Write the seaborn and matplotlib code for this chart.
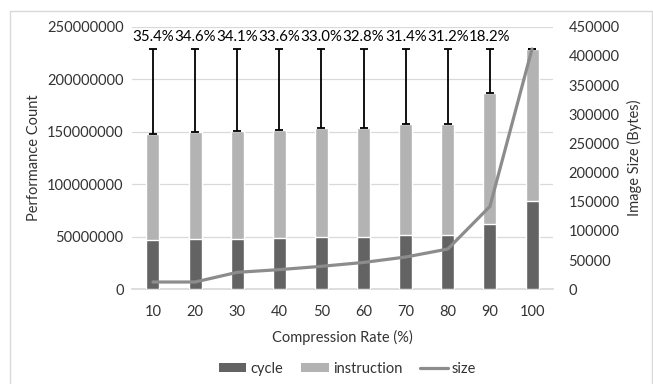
import numpy as np
import pandas as pd
import matplotlib
matplotlib.use("Agg")
import matplotlib.pyplot as plt
from matplotlib.lines import Line2D
from matplotlib.patches import Patch
import seaborn as sns

rates = ["10", "20", "30", "40", "50", "60", "70", "80", "90", "100"]
cycle = [46.6e6, 47.5e6, 48.2e6, 48.8e6, 49.4e6, 49.6e6, 51.3e6, 51.6e6, 62.5e6, 83.7e6]
instruction = [101.2e6, 102.1e6, 102.6e6, 103.1e6, 103.9e6, 104.2e6, 105.7e6, 105.8e6, 124.7e6, 145.1e6]
size = [12500, 12500, 29100, 33700, 39400, 46000, 55300, 69000, 142000, 411800]
pct_labels = ["35.4%", "34.6%", "34.1%", "33.6%", "33.0%", "32.8%", "31.4%", "31.2%", "18.2%", ""]
left_ticks = [0, 50000000, 100000000, 150000000, 200000000, 250000000]
right_ticks = [0, 50000, 100000, 150000, 200000, 250000, 300000, 350000, 400000, 450000]

sns.set_theme(style="white")
plt.rcParams["font.family"] = ["Lato", "DejaVu Sans"]

C_CYCLE = "#636363"
C_INSTR = "#b3b3b3"
C_SIZE = "#8c8c8c"
TXT = "#333333"

df = pd.DataFrame({"rate": rates, "cycle": cycle, "instruction": instruction, "size": size})
df["total"] = df["cycle"] + df["instruction"]

fig = plt.figure(figsize=(6.53, 3.84), dpi=100)
ax = fig.add_axes([0.202, 0.2466, 0.645, 0.684])

sns.barplot(data=df, x="rate", y="total", color=C_INSTR, width=0.31, ax=ax, saturation=1, zorder=2)
sns.barplot(data=df, x="rate", y="cycle", color=C_CYCLE, width=0.31, ax=ax, saturation=1, zorder=3)

top = df["total"].max()
xpos = np.arange(len(rates))
ax.errorbar(xpos, df["total"], yerr=[np.zeros(len(rates)), top - df["total"]],
            fmt="none", ecolor="black", elinewidth=1.3, capsize=3, capthick=1.3, zorder=4)
for i, lab in enumerate(pct_labels):
    if lab:
        ax.text(i, 233.5e6, lab, ha="center", va="bottom", fontsize=10.8, color="black")

ax.set_ylim(0, 250e6)
ax.set_xlim(-0.5, len(rates) - 0.5)
ax.set_yticks(left_ticks)
ax.set_yticklabels([str(t) for t in left_ticks])
ax.yaxis.grid(True, color="#d9d9d9", linewidth=0.9, zorder=0)
ax.set_axisbelow(True)
for s in ["top", "right", "left"]:
    ax.spines[s].set_visible(False)
ax.spines["bottom"].set_color("#d9d9d9")
ax.tick_params(axis="y", length=0, labelsize=10.5, colors=TXT, pad=6)
ax.tick_params(axis="x", length=0, labelsize=10.5, colors=TXT, pad=11)
ax.set_xlabel("Compression Rate (%)", fontsize=10.5, color=TXT, labelpad=8)
ax.set_ylabel("Performance Count", fontsize=10.5, color=TXT, labelpad=4)

ax2 = ax.twinx()
sns.lineplot(x=xpos, y=df["size"], color=C_SIZE, linewidth=2.3, ax=ax2, zorder=5)
ax2.set_ylim(0, 450000)
ax2.set_yticks(right_ticks)
ax2.set_yticklabels([str(t) for t in right_ticks])
for s in ["top", "right", "left", "bottom"]:
    ax2.spines[s].set_visible(False)
ax2.tick_params(axis="y", length=0, labelsize=10.5, colors=TXT, pad=11)
ax2.set_ylabel("Image Size (Bytes)", fontsize=10.5, color=TXT, labelpad=5)
ax2.grid(False)

handles = [Patch(facecolor=C_CYCLE, edgecolor="none", label="cycle"),
           Patch(facecolor=C_INSTR, edgecolor="none", label="instruction"),
           Line2D([0], [0], color=C_SIZE, linewidth=2.3, label="size")]
fig.legend(handles=handles, loc="center", bbox_to_anchor=(0.532, 0.04), ncol=3, frameon=False,
           fontsize=10.5, handlelength=1.9, handleheight=0.6, columnspacing=1.2, handletextpad=0.3,
           labelcolor=TXT)

# outer chart border
for xs, ys in [([9.5, 9.5], [0, 373]), ([9.5, 652], [373, 373]), ([652, 652], [373, 0])]:
    fig.add_artist(Line2D(np.array(xs) / 653, np.array(ys) / 384, color="#d9d9d9", linewidth=1.0,
                          transform=fig.transFigure))

fig.savefig("out.png", dpi=100, facecolor="white")
